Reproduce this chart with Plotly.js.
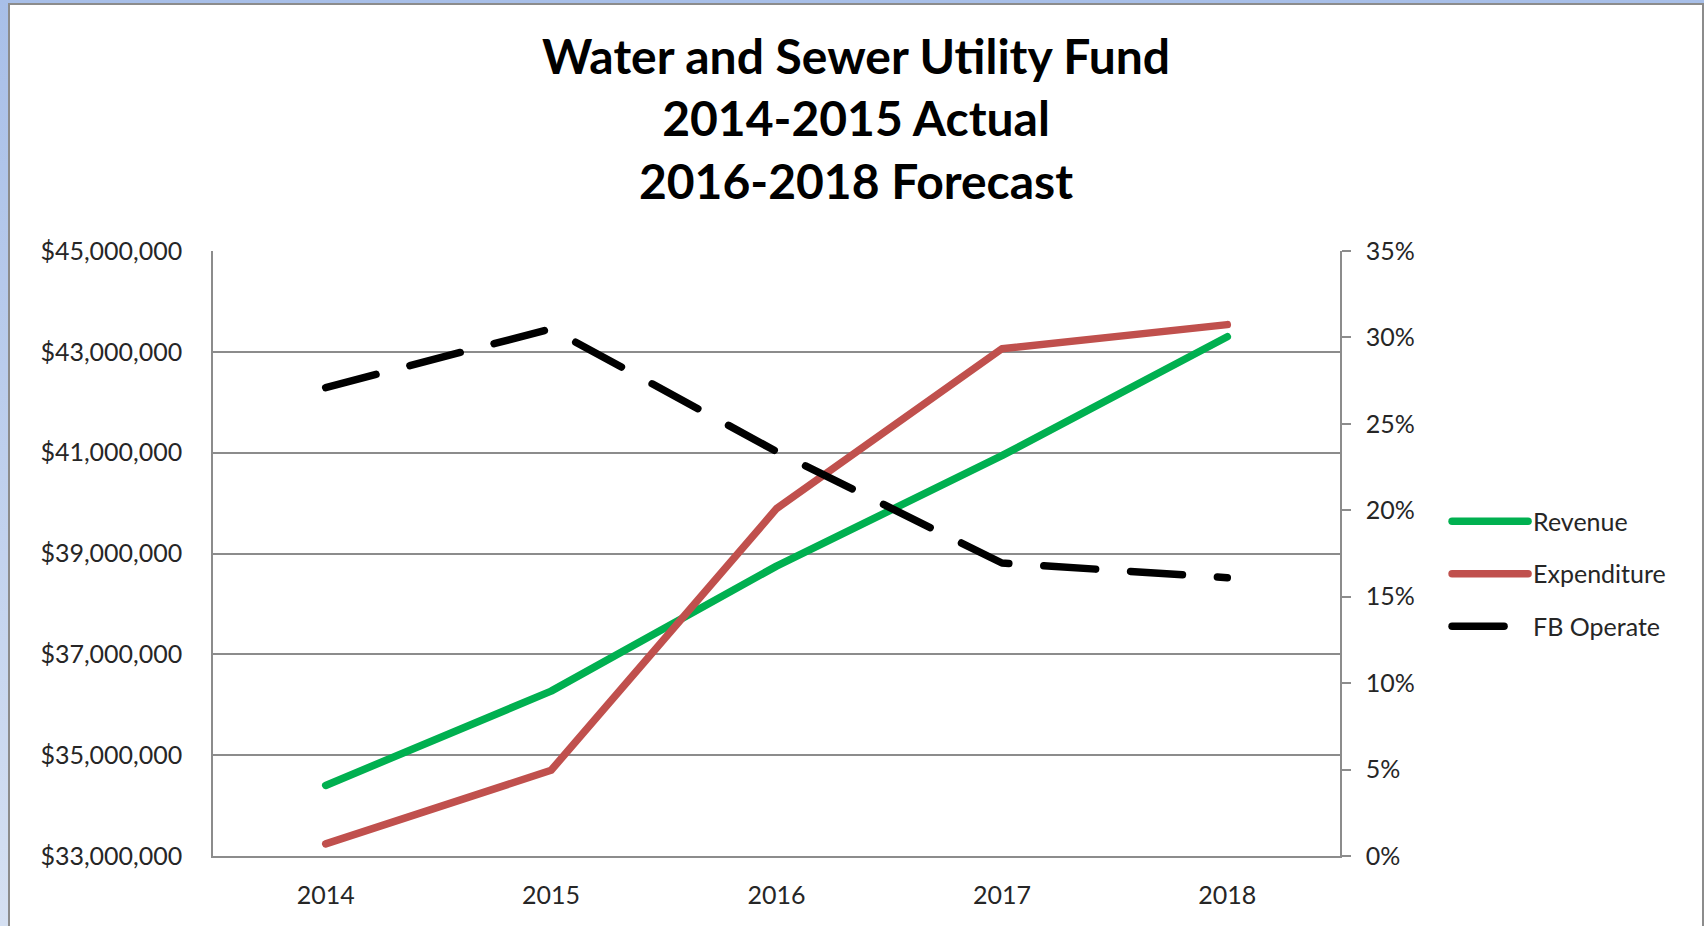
<!DOCTYPE html>
<html>
<head>
<meta charset="utf-8">
<script src="https://cdn.plot.ly/plotly-3.0.1.min.js"></script>
<style>
  html, body { margin: 0; padding: 0; width: 1704px; height: 926px; overflow: hidden;
    background: linear-gradient(#a8bfe8, #d5e0f2); }
  #frame { position: absolute; left: 8px; top: 3px; width: 1692px; height: 940px;
    border: 2px solid #8c8c8c; background: #fff; }
  #chart { width: 1692px; height: 921px; }
  .js-line { stroke-linecap: round; stroke-linejoin: round; }
</style>
</head>
<body>
<div id="frame"><div id="chart"></div></div>
<script>
var years = ['2014', '2015', '2016', '2017', '2018'];
var revenue = [34400000, 36270000, 38750000, 40940000, 43300000];
var expenditure = [33240000, 34700000, 39890000, 43060000, 43540000];
var fbOperate = [0.271, 0.305, 0.234, 0.1695, 0.161];

var textFont = {family: 'Lato, "Open Sans", sans-serif', size: 25, color: '#262626'};

var trace1 = {
    x: years,
    y: revenue,
    type: 'scatter',
    mode: 'lines',
    name: 'Revenue',
    legendgroup: 'a',
    line: {color: '#00b050', width: 7.5}
};

var trace2 = {
    x: years,
    y: expenditure,
    type: 'scatter',
    mode: 'lines',
    name: 'Expenditure',
    legendgroup: 'b',
    line: {color: '#c0504d', width: 7.5}
};

var trace3 = {
    x: years,
    y: fbOperate,
    yaxis: 'y2',
    type: 'scatter',
    mode: 'lines',
    name: 'FB Operate',
    legendgroup: 'c',
    line: {color: '#000000', width: 7.5, dash: '52px,35px'}
};

var data = [trace1, trace2, trace3];
var layout = {
    title: {
        text: '<b>Water and Sewer Utility Fund<br>2014-2015 Actual<br>2016-2018 Forecast</b>',
        font: {family: 'Lato, "Open Sans", sans-serif', size: 48, color: '#000'},
        x: 0.5,
        xref: 'container',
        y: 0.925,
        yref: 'container',
        yanchor: 'top'
    },
    autosize: false,
    width: 1692,
    height: 921,
    paper_bgcolor: '#fff',
    plot_bgcolor: '#fff',
    font: textFont,
    showlegend: true,
    legend: {
        x: 1.095,
        xanchor: 'left',
        y: 0.591,
        yanchor: 'top',
        font: textFont,
        itemwidth: 76,
        traceorder: 'grouped',
        tracegroupgap: 17
    },
    xaxis: {
        type: 'category',
        range: [-0.5, 4.5],
        showgrid: false,
        showline: true,
        linecolor: '#8c8c8c',
        linewidth: 1.5,
        ticks: '',
        ticklabelstandoff: 16,
        tickfont: textFont
    },
    yaxis: {
        range: [33000000, 45000000],
        tick0: 33000000,
        dtick: 2000000,
        tickformat: '$,.0f',
        showgrid: true,
        gridcolor: '#8c8c8c',
        gridwidth: 1.5,
        showline: true,
        linecolor: '#8c8c8c',
        linewidth: 1.5,
        zeroline: false,
        ticks: '',
        ticklabelstandoff: 24,
        tickfont: textFont
    },
    yaxis2: {
        overlaying: 'y',
        side: 'right',
        range: [0, 0.35],
        dtick: 0.05,
        tickformat: '.0%',
        showgrid: false,
        showline: true,
        linecolor: '#8c8c8c',
        linewidth: 1.5,
        zeroline: false,
        ticks: 'outside',
        ticklen: 9,
        tickwidth: 1.5,
        tickcolor: '#8c8c8c',
        ticklabelstandoff: 10,
        tickfont: textFont
    },
    margin: {
        l: 203,
        r: 362,
        t: 246,
        b: 70,
        pad: 0
    }
};

Plotly.newPlot('chart', data, layout, {displayModeBar: false});
</script>
</body>
</html>
